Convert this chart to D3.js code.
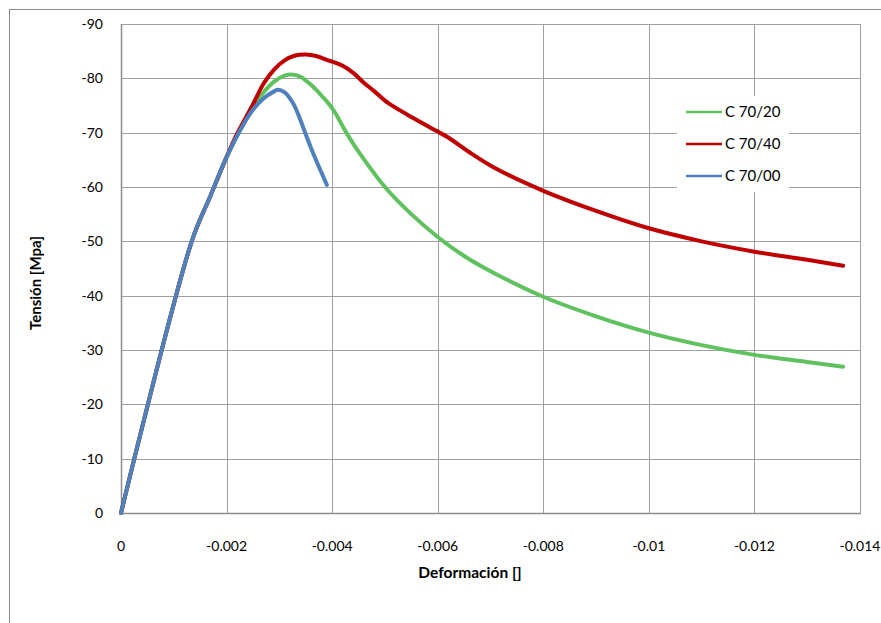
<!DOCTYPE html>
<html>
<head>
<meta charset="utf-8">
<script src="https://cdn.jsdelivr.net/npm/d3@7"></script>
<style>
  body { margin: 0; background: #fff; }
  svg text { font-family: Lato, "Open Sans", sans-serif; fill: #000; }
</style>
</head>
<body>
<svg id="chart" width="881" height="623"></svg>
<script>
// curvas tensión-deformación
const seriesNames = ["C 70/20", "C 70/40", "C 70/00"];
const seriesColors = ["#5fc25f", "#c00000", "#4f81bd"];

const strain20 = [0, -0.00134, -0.0017, -0.002, -0.0023, -0.0025, -0.0027, -0.0029, -0.0031, -0.00323, -0.0034, -0.0036, -0.0038, -0.004, -0.0043, -0.0045, -0.005, -0.0055, -0.006, -0.0065, -0.007, -0.008, -0.009, -0.01, -0.011, -0.012, -0.013, -0.01368];
const stress20 = [0, -50, -58.5, -65.5, -71.2, -74.5, -77.4, -79.4, -80.5, -80.7, -80.3, -78.8, -76.8, -74.5, -69.5, -66.5, -60, -55, -50.8, -47.3, -44.5, -39.8, -36.2, -33.2, -30.9, -29.1, -27.8, -26.9];

const strain40 = [0, -0.00134, -0.0017, -0.002, -0.0022, -0.0025, -0.0027, -0.0029, -0.0031, -0.0033, -0.0035, -0.0037, -0.0039, -0.0042, -0.0044, -0.0046, -0.0048, -0.005, -0.0052, -0.0055, -0.006, -0.0062, -0.0066, -0.0071, -0.008, -0.009, -0.01, -0.011, -0.012, -0.013, -0.01368];
const stress40 = [0, -50, -58.5, -65.5, -69.8, -75.2, -79, -81.6, -83.3, -84.2, -84.4, -84.1, -83.4, -82.3, -81, -79.2, -77.6, -75.9, -74.6, -72.9, -70.2, -69.1, -66.4, -63.4, -59.3, -55.6, -52.4, -50, -48.1, -46.6, -45.5];

const strain00 = [0, -0.00134, -0.0017, -0.002, -0.0023, -0.0025, -0.0027, -0.0029, -0.00297, -0.0031, -0.00326, -0.0034, -0.00348, -0.00364, -0.0039];
const stress00 = [0, -50, -58.5, -65.5, -71.2, -74.2, -76.3, -77.6, -77.9, -77.4, -75.4, -72.3, -70.2, -66.2, -60.4];

const xTicks = [0, -0.002, -0.004, -0.006, -0.008, -0.01, -0.012, -0.014];
const yTicks = [0, -10, -20, -30, -40, -50, -60, -70, -80, -90];

const svg = d3.select("#chart");
const plot = { left: 121, top: 24, right: 860, bottom: 513 };

// borde del área del gráfico
svg.append("rect")
    .attr("x", 9.5).attr("y", 9.5)
    .attr("width", 880).attr("height", 620)
    .style("fill", "none").style("stroke", "#8c8c8c").style("stroke-width", 1);

const x = d3.scaleLinear().domain([0, -0.014]).range([plot.left, plot.right]);
const y = d3.scaleLinear().domain([0, -90]).range([plot.bottom, plot.top]);

// rejilla
const grid = svg.append("g");
grid.selectAll("line.gx")
    .data(xTicks.slice(1))
    .join("line")
    .attr("class", "gx")
    .attr("x1", d => Math.round(x(d)) + 0.5).attr("x2", d => Math.round(x(d)) + 0.5)
    .attr("y1", plot.top).attr("y2", plot.bottom)
    .style("stroke", "#a0a0a0");
grid.selectAll("line.gy")
    .data(yTicks.slice(1))
    .join("line")
    .attr("class", "gy")
    .attr("x1", plot.left).attr("x2", plot.right)
    .attr("y1", d => Math.round(y(d)) + 0.5).attr("y2", d => Math.round(y(d)) + 0.5)
    .style("stroke", "#a0a0a0");

// ejes
svg.append("line")
    .attr("x1", plot.left + 0.5).attr("x2", plot.left + 0.5)
    .attr("y1", plot.top).attr("y2", plot.bottom + 1)
    .style("stroke", "#8c8c8c").style("stroke-width", 1.5);
svg.append("line")
    .attr("x1", plot.left).attr("x2", plot.right + 1)
    .attr("y1", plot.bottom + 0.5).attr("y2", plot.bottom + 0.5)
    .style("stroke", "#8c8c8c").style("stroke-width", 1.5);

// etiquetas de ticks (guion normal como en Excel)
const fmt = d => String(d);
svg.append("g").selectAll("text")
    .data(xTicks)
    .join("text")
    .attr("x", d => x(d))
    .attr("y", 551)
    .attr("text-anchor", "middle")
    .style("font-size", "14px")
    .text(fmt);
svg.append("g").selectAll("text")
    .data(yTicks)
    .join("text")
    .attr("x", 103)
    .attr("y", d => y(d) + 5)
    .attr("text-anchor", "end")
    .style("font-size", "14px")
    .text(fmt);

// títulos de ejes
svg.append("text")
    .attr("x", 470).attr("y", 578)
    .attr("text-anchor", "middle")
    .style("font-size", "15.5px").style("font-weight", "bold")
    .text("Deformación []");
svg.append("text")
    .attr("transform", "translate(41, 283) rotate(-90)")
    .attr("text-anchor", "middle")
    .style("font-size", "15px").style("font-weight", "bold")
    .text("Tensión [Mpa]");

// curvas
const seriesData = [
    d3.zip(strain20, stress20),
    d3.zip(strain40, stress40),
    d3.zip(strain00, stress00)
];
const line = d3.line()
    .x(d => x(d[0]))
    .y(d => y(d[1]))
    .curve(d3.curveCatmullRom.alpha(0.5));
svg.append("g").selectAll("path")
    .data(seriesData)
    .join("path")
    .attr("d", line)
    .style("fill", "none")
    .style("stroke", (d, i) => seriesColors[i])
    .style("stroke-width", 4)
    .style("stroke-linejoin", "round")
    .style("stroke-linecap", "round");

// leyenda
const legend = svg.append("g").attr("transform", "translate(677, 96)");
legend.append("rect")
    .attr("width", 112).attr("height", 96)
    .style("fill", "#fff");
const items = legend.selectAll("g.item")
    .data(seriesNames)
    .join("g")
    .attr("class", "item")
    .attr("transform", (d, i) => `translate(0, ${16 + i * 32})`);
items.append("line")
    .attr("x1", 9).attr("x2", 45)
    .attr("y1", 0).attr("y2", 0)
    .style("stroke", (d, i) => seriesColors[i])
    .style("stroke-width", 2.5);
items.append("text")
    .attr("x", 48).attr("y", 5)
    .style("font-size", "15px")
    .text(d => d);
</script>
</body>
</html>
